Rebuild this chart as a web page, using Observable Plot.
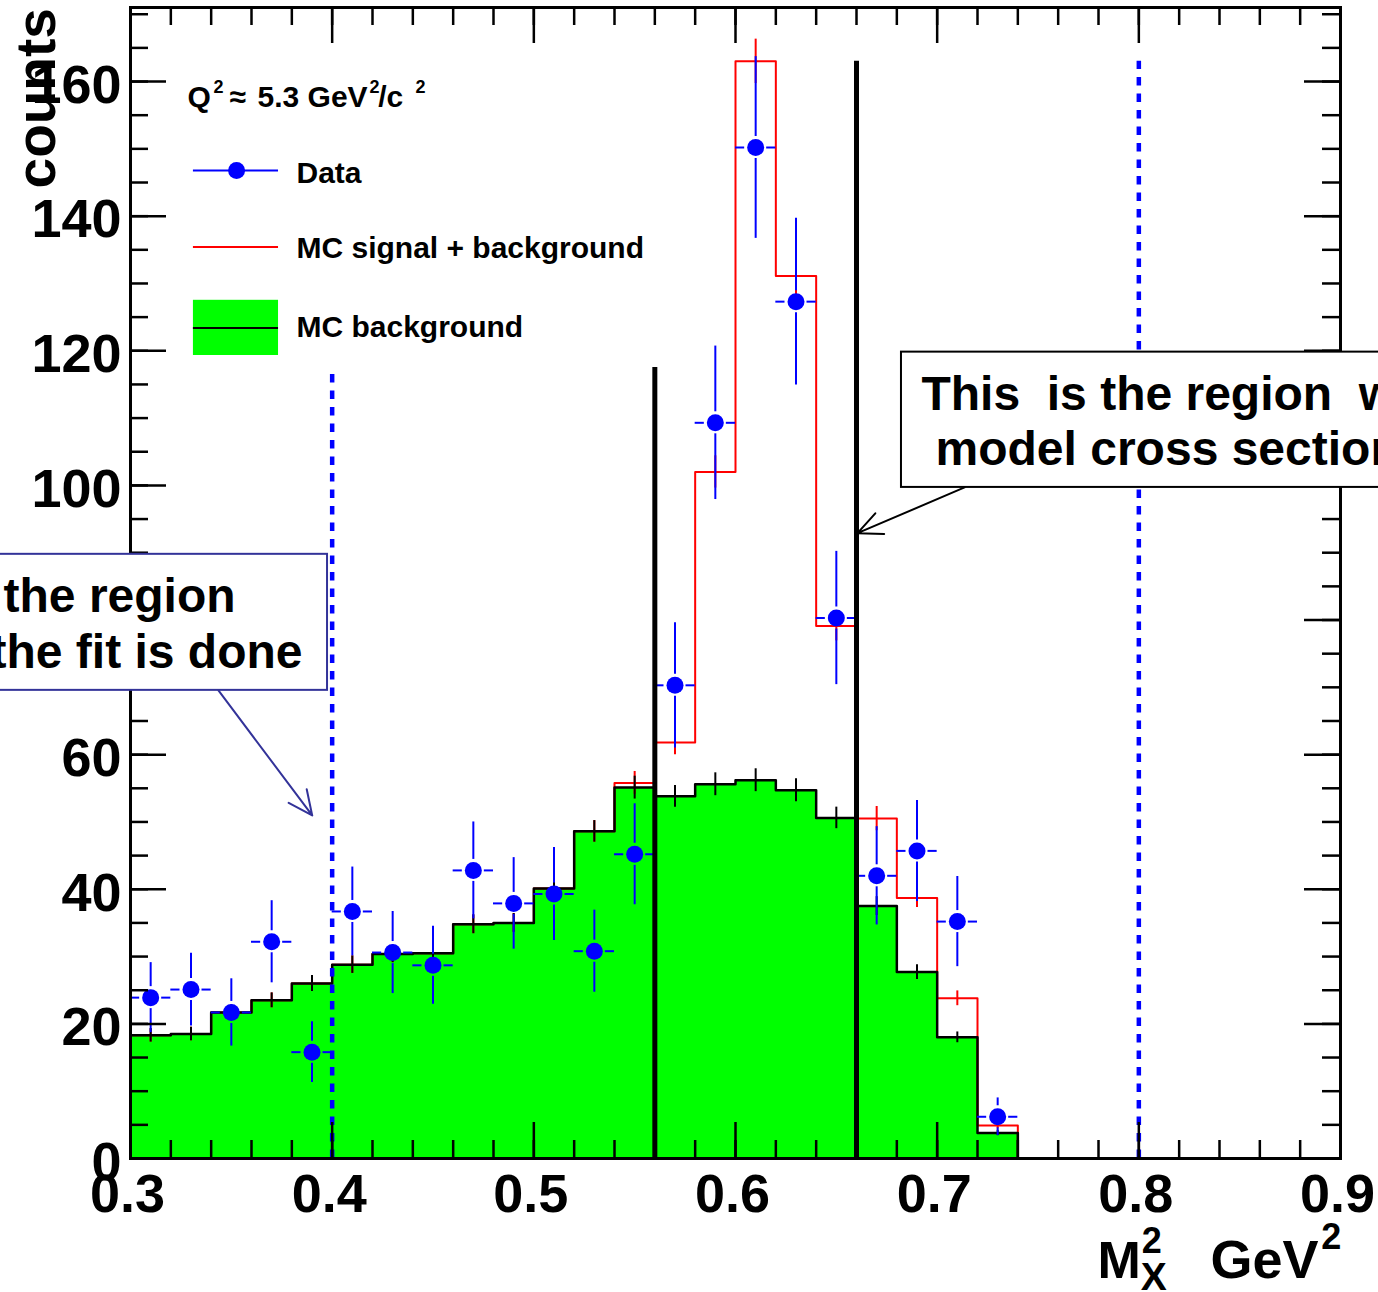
<!DOCTYPE html>
<html><head><meta charset="utf-8">
<script src="https://cdn.jsdelivr.net/npm/d3@7"></script>
<script src="https://cdn.jsdelivr.net/npm/@observablehq/plot@0.6"></script>
<style>
html,body{margin:0;padding:0;background:#fff;overflow:hidden;}
#chart svg text{white-space:pre;}
</style></head><body><div id="chart"></div>
<script>
// ---- data ----
const binEdges = [0.30,0.32,0.34,0.36,0.38,0.40,0.42,0.44,0.46,0.48,0.50,0.52,0.54,0.56,0.58,0.60,0.62,0.64,0.66,0.68,0.70,0.72,0.74];
const dataCounts = [23.9,25.1,21.7,32.2,15.8,36.7,30.6,28.7,42.8,37.9,39.3,30.8,45.2,70.3,109.3,150.2,127.3,80.3,42.0,45.7,35.2,6.2];
const dataErr    = [5.2,5.4,5.0,6.1,4.5,6.6,6.1,5.8,7.2,6.8,6.9,6.1,7.5,9.3,11.4,13.5,12.4,9.9,7.3,7.5,6.7,2.8];
const mcBackground    = [18.3,18.5,21.7,23.5,26.0,28.8,30.4,30.5,34.8,35.0,40.1,48.6,55.1,53.8,55.6,56.2,54.7,50.6,37.5,27.7,18.0,3.8];
const mcBackgroundErr = [1.0,1.0,1.1,1.1,1.2,1.3,1.3,1.3,1.4,1.4,1.5,1.6,1.7,1.6,1.7,1.7,1.7,1.6,1.4,1.1,0.8,0.4];
const mcTotal    = [18.3,18.5,21.7,23.5,26.0,28.8,30.4,30.5,34.8,35.0,40.1,48.6,55.8,61.8,102.0,163.0,131.1,79.1,50.5,38.7,23.8,4.9];
const mcTotalErr = [1.0,1.0,1.1,1.1,1.2,1.3,1.3,1.3,1.4,1.4,1.5,1.6,1.7,1.8,2.4,3.3,2.8,2.2,1.8,1.4,1.1,0.5];
const fitRegionLines   = [{x:0.40, top:117.5},{x:0.80, top:163.0}];
const modelRegionLines = [{x:0.56, top:117.5},{x:0.66, top:163.0}];
const xTickValues = [0.3,0.4,0.5,0.6,0.7,0.8,0.9];
const xTickLabels = ["0.3","0.4","0.5","0.6","0.7","0.8","0.9"];
const yTickValues = [0,20,40,60,80,100,120,140,160];
const yTickLabels = ["0","20","40","60","80","100","120","140","160"];
const xMinorTicks = d3.range(0,31).map(i => +(0.3 + i*0.02).toFixed(2));
const yMinorTicks = d3.range(0,35).map(i => i*5);
const legendLabels = ["Data","MC signal + background","MC background"];
// Q^2 label pieces: [text, isSuperscript]
const qLabelParts = [["Q",0],["2",1],["\u2248",0],["5.3 GeV",0],["2",1],["/c",0],["2",1]];

// ---- layout ----
const W=1378, H=1292, mL=130, mR=38, mT=7, mB=134;
const FW = W-mL-mR, FH = H-mT-mB;
const BLUE="#0000ff", RED="#ff0000", GREEN="#00ff00", NAVY="#333399";
const FONT="'Liberation Sans', Arial, Helvetica, sans-serif";
const qLabelX = [0.3283,0.3412,0.3491,0.3630,0.4185,0.4228,0.4413];

const bins = dataCounts.map((v,i)=>({
  x1: binEdges[i], x2: binEdges[i+1], xc: (binEdges[i]+binEdges[i+1])/2,
  data: v, err: dataErr[i],
  bg: mcBackground[i], bgErr: mcBackgroundErr[i],
  tot: mcTotal[i], totErr: mcTotalErr[i]
}));
function stepPoints(vals){
  const n = vals.length;
  const pts = vals.map((v,i)=>({x: binEdges[i], y: v}));
  pts.push({x: binEdges[n], y: vals[n-1]});
  pts.push({x: binEdges[n], y: 0});
  return pts;
}
const gap = 11;
const qParts = qLabelParts.map((p,i)=>({t:p[0], sup:p[1], x:qLabelX[i]}));

const plot = Plot.plot({
  width: W, height: H,
  marginLeft: mL, marginRight: mR, marginTop: mT, marginBottom: mB,
  x: {domain: [0.3, 0.9], axis: null},
  y: {domain: [0, 171], axis: null},
  style: {fontFamily: FONT, fontWeight: "bold", background: "white", overflow: "hidden"},
  marks: [
    // MC background filled histogram
    Plot.areaY(stepPoints(mcBackground), {x: "x", y: "y", curve: "step-after", fill: GREEN}),
    // MC signal+background outline
    Plot.line(stepPoints(mcTotal), {x: "x", y: "y", curve: "step-after", stroke: RED, strokeWidth: 2}),
    Plot.ruleX(bins, {x: "xc", y1: d=>d.tot-d.totErr, y2: d=>d.tot+d.totErr, stroke: RED, strokeWidth: 2}),
    // MC background outline
    Plot.line(stepPoints(mcBackground), {x: "x", y: "y", curve: "step-after", stroke: "black", strokeWidth: 2.5}),
    Plot.ruleX(bins, {x: "xc", y1: d=>d.bg-d.bgErr, y2: d=>d.bg+d.bgErr, stroke: "black", strokeWidth: 2}),
    // Data points with error bars (gap around marker)
    Plot.ruleY(bins, {y: "data", x1: "x1", x2: "xc", insetRight: gap, stroke: BLUE, strokeWidth: 2}),
    Plot.ruleY(bins, {y: "data", x1: "xc", x2: "x2", insetLeft: gap, stroke: BLUE, strokeWidth: 2}),
    Plot.ruleX(bins, {x: "xc", y1: d=>d.data+d.err, y2: "data", insetBottom: gap, stroke: BLUE, strokeWidth: 2}),
    Plot.ruleX(bins, {x: "xc", y1: "data", y2: d=>d.data-d.err, insetTop: gap, stroke: BLUE, strokeWidth: 2}),
    Plot.dot(bins, {x: "xc", y: "data", r: 8.5, fill: BLUE}),
    // region lines
    Plot.ruleX(modelRegionLines, {x: "x", y1: 0, y2: "top", stroke: "black", strokeWidth: 5}),
    Plot.ruleX(fitRegionLines, {x: "x", y1: 0, y2: "top", stroke: BLUE, strokeWidth: 4.5, strokeDasharray: "8.5,8"}),
    // frame and inward ticks
    Plot.frame({stroke: "black", strokeWidth: 3}),
    Plot.ruleX(xMinorTicks, {x: d=>d, stroke: "black", strokeWidth: 2.5, insetTop: FH - 18}),
    Plot.ruleX(xMinorTicks, {x: d=>d, stroke: "black", strokeWidth: 2.5, insetBottom: FH - 18}),
    Plot.ruleX(xTickValues, {x: d=>d, stroke: "black", strokeWidth: 2.5, insetTop: FH - 36}),
    Plot.ruleX(xTickValues, {x: d=>d, stroke: "black", strokeWidth: 2.5, insetBottom: FH - 36}),
    Plot.ruleY(yMinorTicks, {y: d=>d, stroke: "black", strokeWidth: 2.5, insetRight: FW - 18}),
    Plot.ruleY(yMinorTicks, {y: d=>d, stroke: "black", strokeWidth: 2.5, insetLeft: FW - 18}),
    Plot.ruleY(yTickValues, {y: d=>d, stroke: "black", strokeWidth: 2.5, insetRight: FW - 36}),
    Plot.ruleY(yTickValues, {y: d=>d, stroke: "black", strokeWidth: 2.5, insetLeft: FW - 36}),
    // tick labels
    Plot.text(xTickValues, {x: d=>d, text: (d,i)=>xTickLabels[i], frameAnchor: "bottom", lineAnchor: "top", dy: 15, dx: -3, fontSize: 54, fontWeight: "bold", fill: "black"}),
    Plot.text(yTickValues, {y: d=>d, text: (d,i)=>yTickLabels[i], frameAnchor: "left", textAnchor: "end", dx: -9, dy: 4, fontSize: 54, fontWeight: "bold", fill: "black"}),
    // axis titles
    Plot.text(["counts"], {x: 0.2628, y: 170.9, text: d=>d, rotate: -90, textAnchor: "end", lineAnchor: "bottom", fontSize: 55, fontWeight: "bold", fill: "black"}),
    Plot.text(["M"], {x: 0.7795, y: -17.7, text: d=>d, textAnchor: "start", lineAnchor: "bottom", fontSize: 52, fontWeight: "bold", fill: "black"}),
    Plot.text(["2"], {x: 0.8015, y: -14.0, text: d=>d, textAnchor: "start", lineAnchor: "bottom", fontSize: 36, fontWeight: "bold", fill: "black"}),
    Plot.text(["X"], {x: 0.8010, y: -19.6, text: d=>d, textAnchor: "start", lineAnchor: "bottom", fontSize: 39, fontWeight: "bold", fill: "black"}),
    Plot.text(["GeV"], {x: 0.8355, y: -17.7, text: d=>d, textAnchor: "start", lineAnchor: "bottom", fontSize: 54, fontWeight: "bold", fill: "black"}),
    Plot.text(["2"], {x: 0.8905, y: -13.4, text: d=>d, textAnchor: "start", lineAnchor: "bottom", fontSize: 36, fontWeight: "bold", fill: "black"}),
    // legend
    Plot.text(qParts, {x: "x", y: d=>d.sup ? 158.3 : 156.2, text: "t", textAnchor: "start", lineAnchor: "bottom", fontSize: d=>d.sup ? 18 : 30, fontWeight: "bold", fill: "black"}),
    Plot.ruleY([146.8], {y: d=>d, x1: 0.3312, x2: 0.3734, stroke: BLUE, strokeWidth: 2}),
    Plot.dot([146.8], {x: 0.3526, y: d=>d, r: 8.5, fill: BLUE}),
    Plot.ruleY([135.4], {y: d=>d, x1: 0.3312, x2: 0.3734, stroke: RED, strokeWidth: 2}),
    Plot.rect([0], {x1: 0.3312, x2: 0.3734, y1: 119.3, y2: 127.5, fill: GREEN}),
    Plot.ruleY([123.4], {y: d=>d, x1: 0.3312, x2: 0.3734, stroke: "black", strokeWidth: 2}),
    Plot.text(legendLabels, {x: 0.3823, y: (d,i)=>[145.0,133.8,122.0][i], text: d=>d, textAnchor: "start", lineAnchor: "bottom", fontSize: 30, fontWeight: "bold", fill: "black"}),
    // annotation boxes
    Plot.rect([0], {x1: -0.2, x2: 0.3977, y1: 69.55, y2: 89.76, fill: "white", stroke: NAVY, strokeWidth: 2}),
    Plot.text(["This is the region", "where the fit is done"], {x: (d,i)=>[0.3521,0.3853][i], y: (d,i)=>[81.2,72.8][i], text: d=>d, textAnchor: "end", lineAnchor: "bottom", fontSize: 48, fontWeight: "bold", fill: "black"}),
    Plot.arrow([0], {x1: 0.3436, y1: 69.55, x2: 0.3901, y2: 50.97, stroke: NAVY, strokeWidth: 2, headLength: 20, headAngle: 50}),
    Plot.rect([0], {x1: 0.6823, x2: 1.1, y1: 99.7, y2: 119.8, fill: "white", stroke: "black", strokeWidth: 2}),
    Plot.text(["This  is the region  where the", "model cross section is used"], {x: (d,i)=>[0.6922,0.6992][i], y: (d,i)=>[111.2,103.0][i], text: d=>d, textAnchor: "start", lineAnchor: "bottom", fontSize: 48, fontWeight: "bold", fill: "black"}),
    Plot.arrow([0], {x1: 0.7136, y1: 99.7, x2: 0.6605, y2: 92.9, stroke: "black", strokeWidth: 2, headLength: 20, headAngle: 50})
  ]
});
document.getElementById("chart").appendChild(plot);
</script></body></html>
